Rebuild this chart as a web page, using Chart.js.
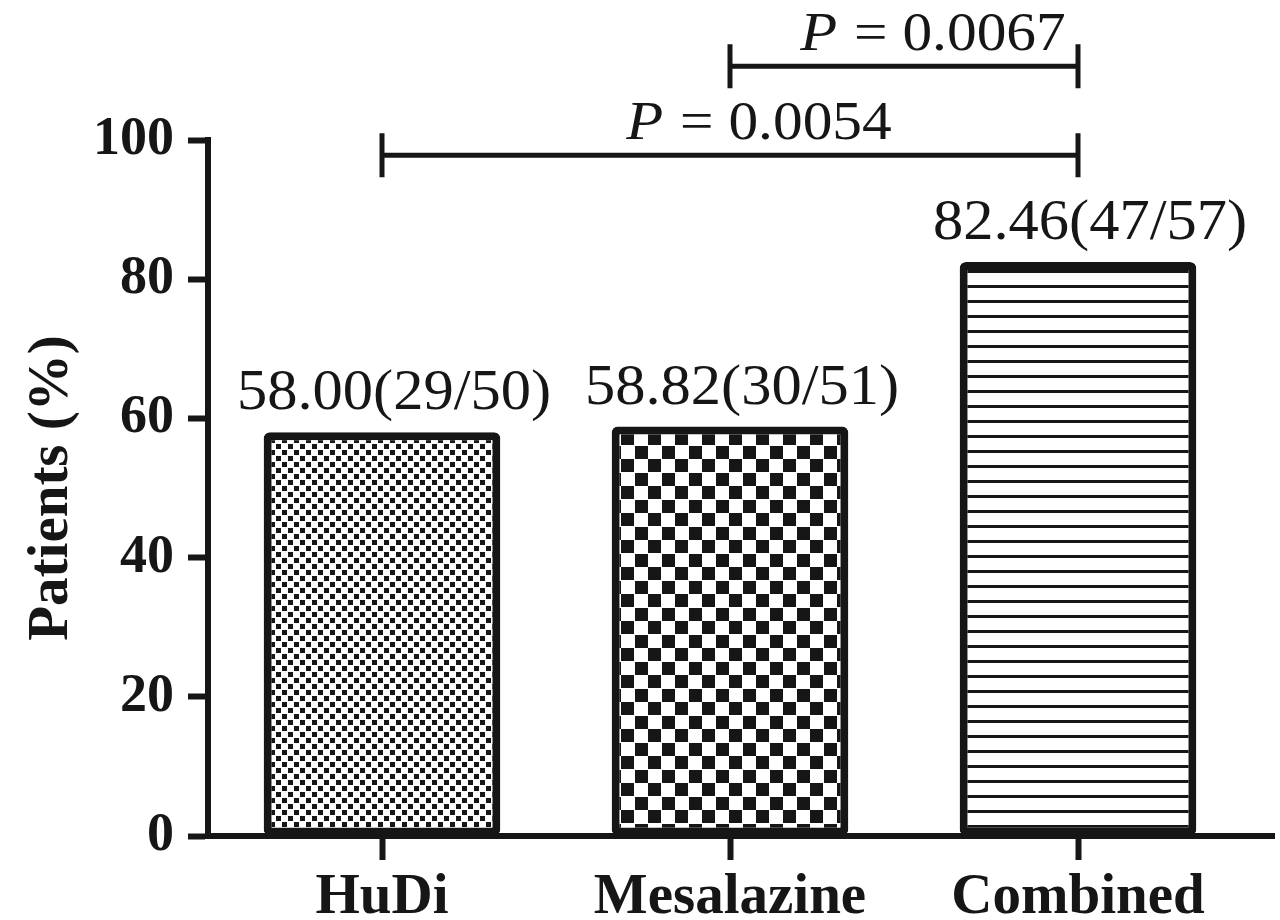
<!DOCTYPE html>
<html lang="en">
<head>
<meta charset="UTF-8">
<title>Patients (%)</title>
<script src="https://cdn.jsdelivr.net/npm/chart.js"></script>
<style>
  html, body { margin: 0; padding: 0; background: #fff; }
</style>
</head>
<body>
<canvas id="chart" width="1280" height="920"></canvas>
<script>
// data
const groups = ['HuDi', 'Mesalazine', 'Combined'];
const percent = [58.00, 58.82, 82.46];
const counts = ['29/50', '30/51', '47/57'];
const yTicks = [0, 20, 40, 60, 80, 100];
// significance brackets (group index from/to, height in % units, p value)
const bracketFrom = [0, 1];
const bracketTo = [2, 2];
const bracketLevel = [97.8, 110.6];
const bracketP = ['0.0054', '0.0067'];

const INK = '#161616';
const SERIF = '"Liberation Serif", "Times New Roman", serif';

const ctx = document.getElementById('chart').getContext('2d');

function makePattern(w, h, draw) {
    const c = document.createElement('canvas');
    c.width = w;
    c.height = h;
    const g = c.getContext('2d');
    g.fillStyle = '#fff';
    g.fillRect(0, 0, w, h);
    g.fillStyle = INK;
    draw(g);
    return ctx.createPattern(c, 'repeat');
}

const fineChecker = makePattern(12, 12, g => {
    g.fillRect(0, 0, 5, 5);
    g.fillRect(6, 6, 5, 5);
});
const coarseChecker = makePattern(27, 27, g => {
    g.fillRect(0, 0, 13, 13);
    g.fillRect(14, 14, 13, 13);
});
const stripes = makePattern(8, 15, g => {
    g.fillRect(0, 0, 8, 3);
});

// text a little wider than the font, like the original figure
function wideText(c, text, x, y, sx) {
    c.save();
    c.translate(x, y);
    c.scale(sx, 1);
    c.fillText(text, 0, 0);
    c.restore();
}

// value labels, p-value brackets and the x axis running past the last bar
const annotate = {
    id: 'annotate',
    afterDraw(chart) {
        const c = chart.ctx;
        const x = chart.scales.x;
        const y = chart.scales.y;
        c.save();
        c.fillStyle = INK;
        c.strokeStyle = INK;

        // axis extension on the right
        c.lineWidth = 6;
        c.beginPath();
        c.moveTo(chart.chartArea.right - 2, y.getPixelForValue(0));
        c.lineTo(chart.chartArea.right + 23, y.getPixelForValue(0));
        c.stroke();

        c.font = '56px ' + SERIF;
        c.textAlign = 'center';
        c.textBaseline = 'alphabetic';
        percent.forEach((v, i) => {
            wideText(c, v.toFixed(2) + '(' + counts[i] + ')', x.getPixelForValue(i) + 12, y.getPixelForValue(v) - 23, 1.08);
        });

        c.lineWidth = 5;
        const sx = 1.1;
        bracketFrom.forEach((f, k) => {
            const x1 = x.getPixelForValue(f);
            const x2 = x.getPixelForValue(bracketTo[k]);
            const yy = y.getPixelForValue(bracketLevel[k]);
            c.beginPath();
            c.moveTo(x1, yy);
            c.lineTo(x2, yy);
            c.moveTo(x1, yy - 22);
            c.lineTo(x1, yy + 22);
            c.moveTo(x2, yy - 22);
            c.lineTo(x2, yy + 22);
            c.stroke();

            const italic = 'italic 55px ' + SERIF;
            const upright = '54px ' + SERIF;
            const rest = ' = ' + bracketP[k];
            c.font = italic;
            const wP = c.measureText('P').width * sx;
            c.font = upright;
            const wR = c.measureText(rest).width * sx;
            const start = (x1 + x2) / 2 + 28 - (wP + wR) / 2;
            c.textAlign = 'left';
            c.font = italic;
            wideText(c, 'P', start, yy - 16, sx);
            c.font = upright;
            wideText(c, rest, start + wP + 2, yy - 16, sx);
        });
        c.restore();
    }
};

new Chart(ctx, {
    type: 'bar',
    data: {
        labels: groups,
        datasets: [{
            data: percent,
            backgroundColor: [fineChecker, coarseChecker, stripes],
            borderColor: INK,
            borderWidth: 8,
            borderRadius: 6,
            borderSkipped: false,
            barPercentage: 0.68,
            categoryPercentage: 1
        }]
    },
    options: {
        responsive: false,
        animation: false,
        devicePixelRatio: 1,
        layout: {
            padding: { top: 140, right: 28, left: 0, bottom: 0 }
        },
        plugins: {
            legend: { display: false },
            tooltip: { enabled: false }
        },
        scales: {
            x: {
                offset: true,
                border: { display: true, color: INK, width: 6 },
                grid: {
                    offset: false,
                    drawOnChartArea: false,
                    tickLength: 24,
                    tickWidth: 6,
                    tickColor: INK
                },
                ticks: {
                    color: INK,
                    padding: 4,
                    font: { family: SERIF, size: 57, weight: 'bold' }
                },
                afterFit: s => { s.height = 84; }
            },
            y: {
                min: 0,
                max: 100,
                afterBuildTicks: s => { s.ticks = yTicks.map(v => ({ value: v })); },
                border: { display: true, color: INK, width: 6 },
                grid: {
                    drawOnChartArea: false,
                    tickLength: 20,
                    tickWidth: 6,
                    tickColor: INK
                },
                ticks: {
                    color: INK,
                    padding: 14,
                    font: { family: SERIF, size: 54, weight: 'bold' }
                },
                title: {
                    display: true,
                    text: 'Patients (%)',
                    color: INK,
                    padding: { top: 18, bottom: 0 },
                    font: { family: SERIF, size: 57, weight: 'bold' }
                },
                afterFit: s => { s.width = 208; }
            }
        }
    },
    plugins: [annotate]
});
</script>
</body>
</html>
